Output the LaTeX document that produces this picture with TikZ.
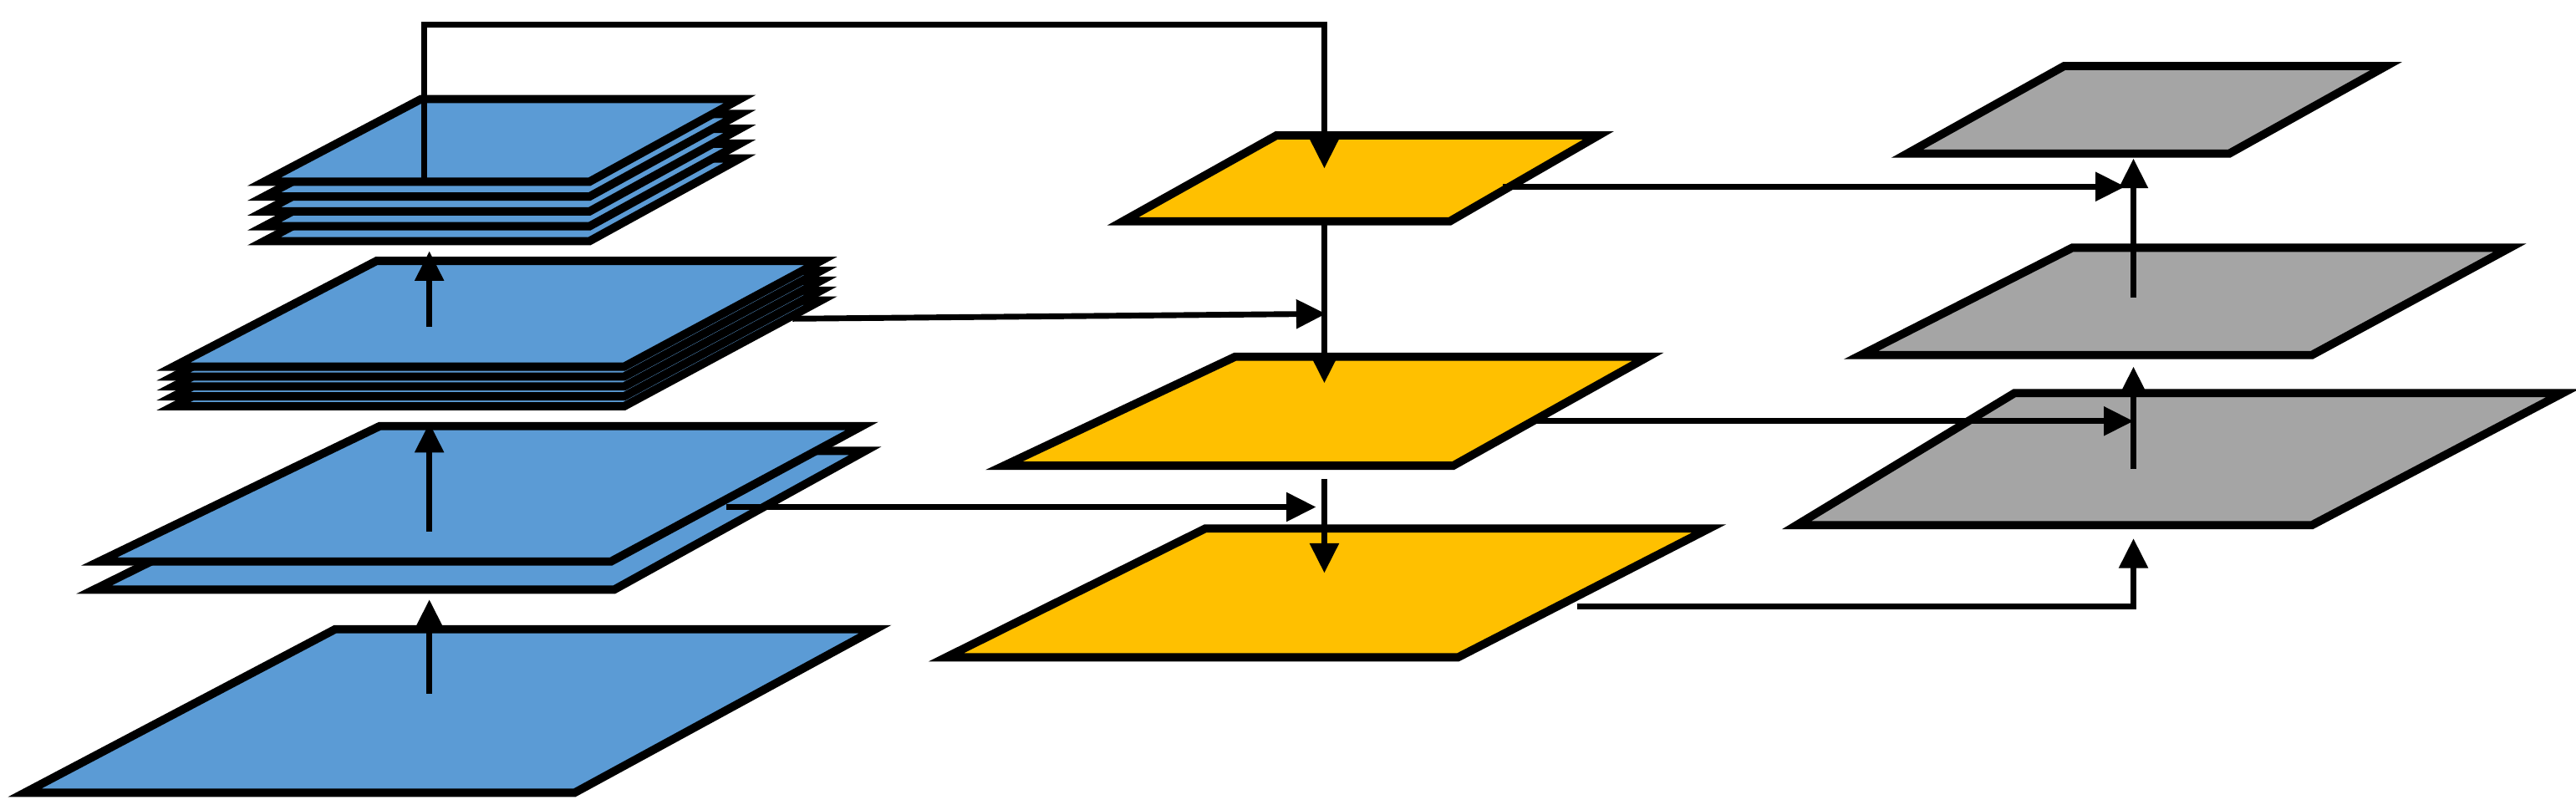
\documentclass[tikz,border=0pt]{standalone}
\usetikzlibrary{arrows.meta}
\definecolor{bl}{HTML}{5B9BD5}
\definecolor{ye}{HTML}{FFC000}
\definecolor{gr}{HTML}{A5A5A5}
\begin{document}
\begin{tikzpicture}[x=1pt,y=-1pt,line join=miter,
  sheet/.style={draw=black,line width=5pt},
  con/.style={draw=black,line width=3.5pt,-{Triangle[length=18pt,width=17pt]}}]
\useasboundingbox (0,0) rectangle (1560,490);
\newcommand\pl[7]{\path[sheet,fill=#1] (#3,#2)--(#4,#2)--(#7,#5)--(#6,#5)--cycle;}
% blue
\pl{bl}{480}{15}{348}{381}{203}{530}
\pl{bl}{357}{57}{372}{273}{227}{524}
\pl{bl}{340}{60}{370}{258}{230}{522}
\foreach \d in {24,18,12,6,0}{\pl{bl}{222+\d}{105}{378}{158+\d}{228}{497}}
\foreach \d in {36,27,18,9,0}{\pl{bl}{110+\d}{160}{357}{60+\d}{255}{448}}
% yellow
\pl{ye}{134}{680}{878}{82}{773}{968}
\pl{ye}{282}{608}{880}{216}{748}{998}
\pl{ye}{398}{573}{883}{320}{730}{1035}
% gray
\pl{gr}{93}{1155}{1350}{40}{1250}{1445}
\pl{gr}{215}{1127}{1400}{150}{1255}{1520}
\pl{gr}{318}{1088}{1400}{238}{1220}{1552}
% coordinates
\coordinate (b1s) at (260,420); \coordinate (b1e) at (260,363);
\coordinate (b2s) at (260,322); \coordinate (b2e) at (260,256);
\coordinate (b3s) at (260,198); \coordinate (b3e) at (260,152);
\coordinate (b4s) at (257,112); \coordinate (ytop) at (802,102);
\coordinate (y1s) at (802,136); \coordinate (y1e) at (802,232);
\coordinate (y2s) at (802,290); \coordinate (y2e) at (802,347);
\coordinate (b3r) at (480,193); \coordinate (y2l) at (803,190);
\coordinate (b2r) at (440,307); \coordinate (y3l) at (797,307);
\coordinate (y1r) at (910,113); \coordinate (g1) at (1287,113);
\coordinate (y2r) at (930,255); \coordinate (g3) at (1292,255);
\coordinate (y3r) at (955,367); \coordinate (g3b) at (1292,326);
\coordinate (g3s) at (1292,284); \coordinate (g2e) at (1292,222);
\coordinate (g2s) at (1292,180); \coordinate (g1e) at (1292,96);
\draw[con] (b1s)--(b1e);
\draw[con] (b2s)--(b2e);
\draw[con] (b3s)--(b3e);
\draw[con] (b4s)|-(530,15)-|(ytop);
\draw[con] (y1s)--(y1e);
\draw[con] (y2s)--(y2e);
\draw[con] (b3r)--(y2l);
\draw[con] (b2r)--(y3l);
\draw[con] (y1r)--(g1);
\draw[con] (y2r)--(g3);
\draw[con] (y3r)-|(g3b);
\draw[con] (g3s)--(g2e);
\draw[con] (g2s)--(g1e);
\end{tikzpicture}
\end{document}
